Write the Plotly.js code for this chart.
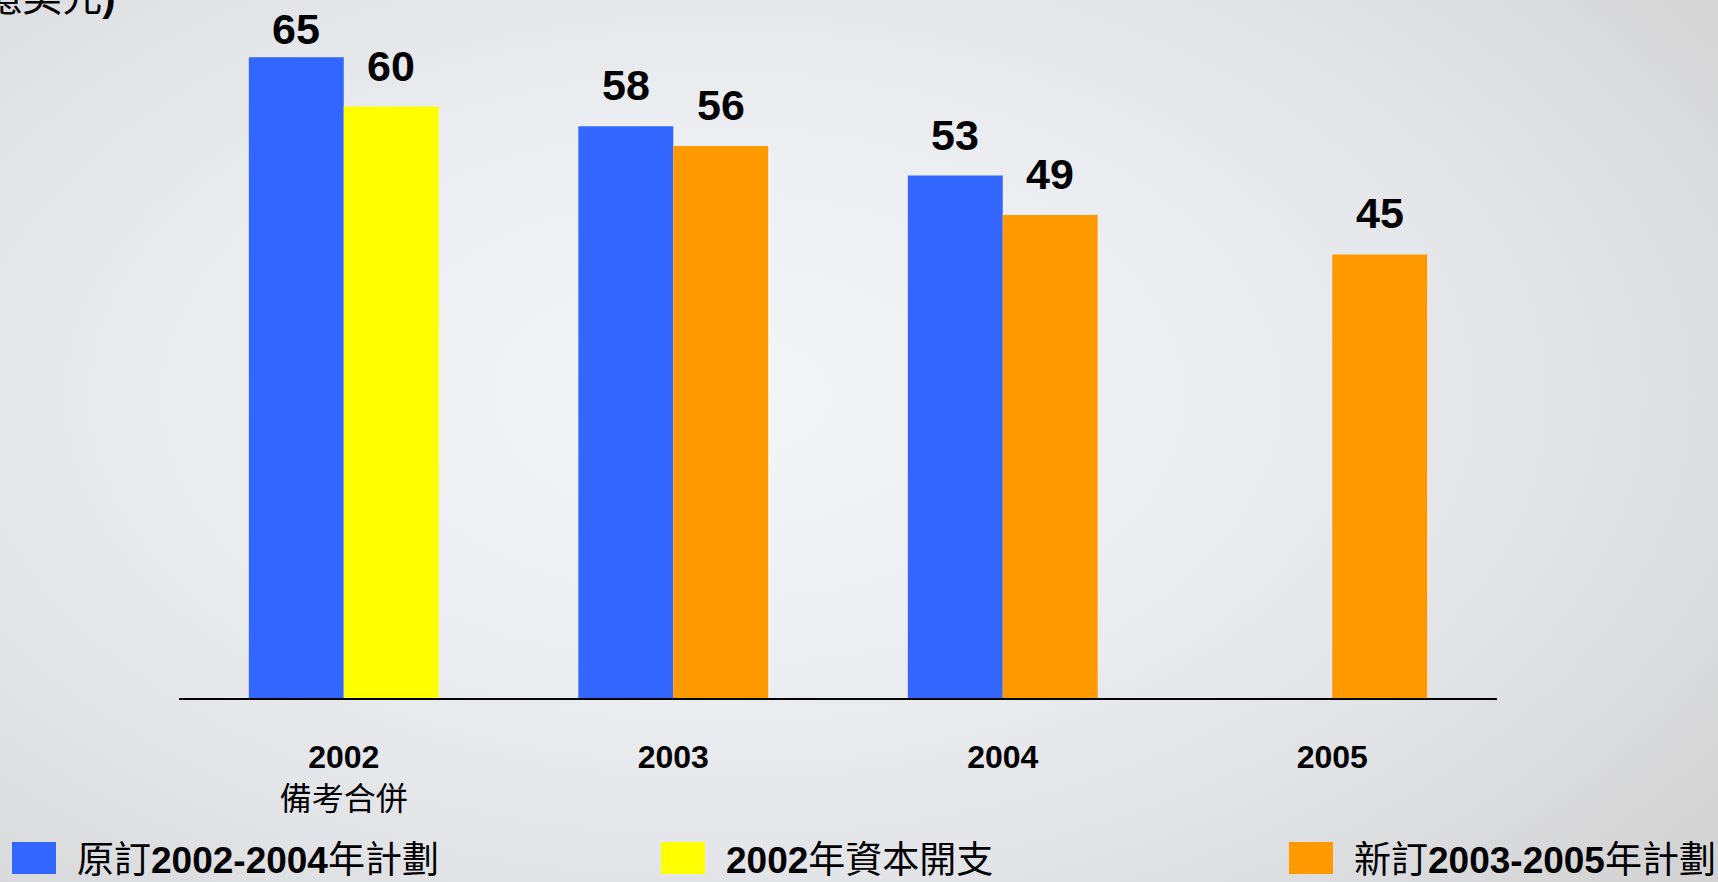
<!DOCTYPE html>
<html>
<head>
<meta charset="utf-8">
<script src="https://cdn.plot.ly/plotly-3.0.1.min.js"></script>
<style>
  html, body { margin: 0; padding: 0; width: 1718px; height: 882px; overflow: hidden; }
  body { background: radial-gradient(ellipse 75% 85% at 42% 45%, #f4f5f7 0%, #eceef1 35%, #e3e4e7 65%, #d2d2d2 100%); }
  #chart { width: 1718px; height: 882px; }
</style>
</head>
<body>
<div id="chart"></div>
<script>
// ---- data ----
const years = ['2002', '2003', '2004', '2005'];
const yearNotes = ['備考合併', '', '', ''];
const seriesNames = ['原訂2002-2004年計劃', '2002年資本開支', '新訂2003-2005年計劃'];
const seriesLegendHtml = ['原訂<b>2002-2004</b>年計劃', '<b>2002</b>年資本開支', '新訂<b>2003-2005</b>年計劃'];
const originalPlan = [65, 58, 53, null];
const capex2002 = [60, null, null, null];
const revisedPlan = [null, 56, 49, 45];
const unitLabel = '(億美元)';

// ---- layout constants ----
const W = 1718, H = 882;
const L = 179, R = 221, T = 8, B = 184;
const plotW = W - L - R, plotH = H - T - B;
const yMax = 70;
const barW = 0.288;
const colors = ['#3366FF', '#FFFF00', '#FF9900'];
const seriesVals = [originalPlan, capex2002, revisedPlan];
const offsets = [-barW, 0, 0];

const pxX = px => (px - L) / plotW;
const pxY = py => (H - B - py) / plotH;

const traces = seriesVals.map((vals, i) => ({
  type: 'bar',
  name: seriesNames[i],
  x: years,
  y: vals,
  width: barW,
  offset: offsets[i],
  marker: { color: colors[i], line: { width: 0 } },
  showlegend: false,
  hoverinfo: 'x+y+name'
}));

const ticktext = years.map((y, i) => '<b>' + y + '</b>' + (yearNotes[i] ? '<br>' + yearNotes[i] : ''));

const annotations = [];
// value labels
seriesVals.forEach((vals, s) => {
  vals.forEach((v, i) => {
    if (v === null) return;
    const barTopPx = T + (yMax - v) * plotH / yMax;
    const shift = Math.min(15, barTopPx - 55);
    annotations.push({
      x: i + offsets[s] + barW / 2, y: v, xref: 'x', yref: 'y',
      text: '<b>' + v + '</b>', showarrow: false,
      xanchor: 'center', yanchor: 'bottom', yshift: shift,
      font: { family: '"Liberation Sans Narrow", "Arial Narrow", "Liberation Sans", sans-serif', size: 43, color: '#000' }
    });
  });
});
// unit label (cut off at top-left)
annotations.push({
  x: pxX(118), y: pxY(-3), xref: 'paper', yref: 'paper',
  text: unitLabel.replace('(', '<b>(</b>').replace(')', '<b>)</b>'), showarrow: false,
  xanchor: 'right', yanchor: 'middle',
  font: { family: '"Liberation Sans", "Noto Sans CJK TC", sans-serif', size: 40, color: '#000' }
});

// custom legend
const legendX = [12, 661, 1289];
const shapes = [];
seriesNames.forEach((n, i) => {
  shapes.push({
    type: 'rect', xref: 'paper', yref: 'paper',
    x0: pxX(legendX[i]), x1: pxX(legendX[i] + 44),
    y0: pxY(874), y1: pxY(842),
    fillcolor: colors[i], line: { width: 0 }
  });
  annotations.push({
    x: pxX(legendX[i] + 63), y: pxY(860), xref: 'paper', yref: 'paper',
    text: seriesLegendHtml[i], showarrow: false,
    xanchor: 'left', yanchor: 'middle',
    font: { family: '"Liberation Sans", "Noto Sans CJK TC", sans-serif', size: 37, color: '#000' }
  });
});

const layout = {
  width: W, height: H,
  margin: { l: L, r: R, t: T, b: B, pad: 0 },
  paper_bgcolor: 'rgba(0,0,0,0)',
  plot_bgcolor: 'rgba(0,0,0,0)',
  barmode: 'overlay',
  showlegend: false,
  font: { family: '"Liberation Sans", "Noto Sans CJK TC", sans-serif', color: '#000' },
  xaxis: {
    type: 'category',
    range: [-0.5, 3.5],
    tickmode: 'array', tickvals: years, ticktext: ticktext,
    tickfont: { size: 32, color: '#000', family: '"Liberation Sans", "Noto Sans CJK TC", sans-serif' },
    showline: true, linecolor: '#000', linewidth: 2,
    showgrid: false, zeroline: false, ticks: '',
    ticklabelstandoff: 30,
    automargin: false, fixedrange: true
  },
  yaxis: {
    range: [0, yMax], visible: false, showgrid: false, zeroline: false,
    automargin: false, fixedrange: true
  },
  annotations: annotations,
  shapes: shapes
};

Plotly.newPlot('chart', traces, layout, { displayModeBar: false, staticPlot: true });
</script>
</body>
</html>
